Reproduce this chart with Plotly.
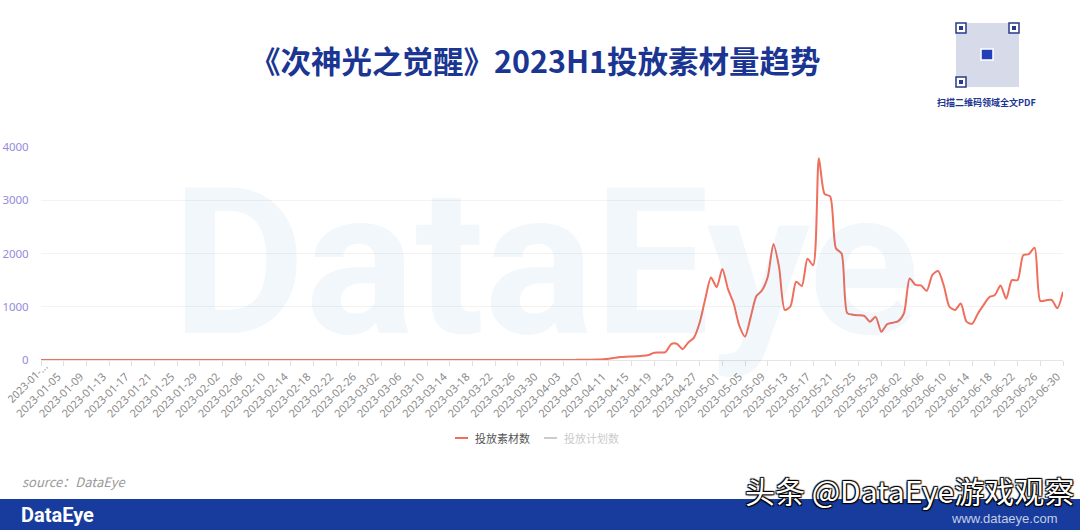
import plotly.graph_objects as go
import pandas as pd

# ---- data ----
dates = pd.date_range("2023-01-01", "2023-06-30", freq="D")
jan = [0] * 31
feb = [0] * 28
mar = [0] * 31
apr = [0, 1, 1, 2, 2, 3, 4, 6, 9, 15, 25, 40, 55, 62, 66, 70, 78, 95, 135, 140,
       150, 300, 305, 205, 330, 420, 700, 1150, 1550, 1370]
may = [1710, 1330, 1060, 640, 440, 810, 1200, 1310, 1560, 2180, 1740, 940, 1010, 1470, 1390,
       1900, 1780, 3790, 3120, 3070, 2100, 2000, 880, 850, 840, 830, 720, 810, 530, 670, 700]
jun = [730, 880, 1530, 1410, 1400, 1300, 1600, 1670, 1400, 1000, 940, 1060, 720, 680, 870,
       1030, 1180, 1220, 1400, 1150, 1500, 1500, 1970, 1990, 2110, 1110, 1120, 1130, 970, 1280]
materials = jan + feb + mar + apr + may + jun

tick_dates = dates[::4]
tick_labels = [d.strftime("%Y-%m-%d") for d in tick_dates]
first_label = "2023-01-..."
tick_labels[0] = ""

series_names = ["投放素材数", "投放计划数"]
title_text = "《次神光之觉醒》2023H1投放素材量趋势"

# ---- layout helpers (page pixels -> paper) ----
L, R, T, B = 41, 1063, 147, 360
W, H = 1080, 530
def px(x):
    return (x - L) / (R - L)
def py(y):
    return (B - y) / (B - T)

LINE_COLOR = "#ef6f5c"
BLUE = "#1b3592"
TICK_GREY = "#8a8a8a"

fig = go.Figure()
fig.add_trace(go.Scatter(
    x=dates, y=materials, mode="lines", name=series_names[0],
    line=dict(color=LINE_COLOR, width=2, shape="spline", smoothing=0.7),
    showlegend=False, hoverinfo="x+y",
))

annotations = []
shapes = []

# watermark
annotations.append(dict(xref="paper", yref="paper", x=px(545), y=py(263), text="<b>DataEye</b>",
                        showarrow=False, font=dict(family="Roboto", size=205, color="rgba(40,120,210,0.06)"),
                        xanchor="center", yanchor="middle"))

# title
annotations.append(dict(xref="paper", yref="paper", x=px(535), y=py(60), text="<b>" + title_text + "</b>",
                        showarrow=False, font=dict(family="Noto Sans CJK SC", size=30.5, color=BLUE),
                        xanchor="center", yanchor="middle"))

# QR-like block
qx0, qy0, qx1, qy1 = 956, 23, 1019, 87
shapes.append(dict(type="rect", xref="paper", yref="paper", x0=px(qx0), x1=px(qx1), y0=py(qy1), y1=py(qy0),
                   fillcolor="#d6dae9", line=dict(width=0), layer="above"))
fs = 10
for (fx, fy) in [(qx0, qy0), (qx1 - fs, qy0), (qx0, qy1 - fs)]:
    shapes.append(dict(type="rect", xref="paper", yref="paper", x0=px(fx), x1=px(fx + fs), y0=py(fy + fs), y1=py(fy),
                       fillcolor="#ffffff", line=dict(color="#2a3a8c", width=1.5), layer="above"))
    shapes.append(dict(type="rect", xref="paper", yref="paper", x0=px(fx + 3), x1=px(fx + 7), y0=py(fy + 7), y1=py(fy + 3),
                       fillcolor="#2a3a8c", line=dict(width=0), layer="above"))
shapes.append(dict(type="rect", xref="paper", yref="paper", x0=px(981), x1=px(993), y0=py(60), y1=py(49),
                   fillcolor="#2340b8", line=dict(color="#ffffff", width=1.5), layer="above"))
annotations.append(dict(xref="paper", yref="paper", x=px(986), y=py(103), text="<b>扫描二维码领域全文PDF</b>",
                        showarrow=False, font=dict(family="Noto Sans CJK SC", size=9, color=BLUE),
                        xanchor="center", yanchor="middle"))

# first (truncated) x tick label, kept inside the page like the reference
annotations.append(dict(xref="paper", yref="paper", x=px(27), y=py(383), text=first_label,
                        showarrow=False, textangle=-45,
                        font=dict(family="Noto Sans", size=10.5, color=TICK_GREY),
                        xanchor="center", yanchor="middle"))

# legend (manual)
shapes.append(dict(type="line", xref="paper", yref="paper", x0=px(455), x1=px(468), y0=py(438), y1=py(438),
                   line=dict(color=LINE_COLOR, width=2)))
annotations.append(dict(xref="paper", yref="paper", x=px(473), y=py(438), text=series_names[0],
                        showarrow=False, font=dict(family="Noto Sans CJK SC", size=11, color="#555555"),
                        xanchor="left", yanchor="middle"))
shapes.append(dict(type="line", xref="paper", yref="paper", x0=px(544), x1=px(557), y0=py(438), y1=py(438),
                   line=dict(color="#cccccc", width=2)))
annotations.append(dict(xref="paper", yref="paper", x=px(562), y=py(438), text=series_names[1],
                        showarrow=False, font=dict(family="Noto Sans CJK SC", size=11, color="#cccccc"),
                        xanchor="left", yanchor="middle"))

# source
annotations.append(dict(xref="paper", yref="paper", x=px(20), y=py(481), text="<i>source：DataEye</i>",
                        showarrow=False, font=dict(family="Noto Sans CJK SC", size=13, color="#9a9a9a"),
                        xanchor="left", yanchor="middle"))

# footer band
shapes.append(dict(type="rect", xref="paper", yref="paper", x0=px(0), x1=px(W), y0=py(H), y1=py(499),
                   fillcolor="#173c9d", line=dict(width=0), layer="above"))
annotations.append(dict(xref="paper", yref="paper", x=px(19), y=py(515), text="<b>DataEye</b>",
                        showarrow=False, font=dict(family="Roboto", size=20, color="#ffffff"),
                        xanchor="left", yanchor="middle"))
annotations.append(dict(xref="paper", yref="paper", x=px(1076), y=py(490), text="头条 @DataEye游戏观察",
                        showarrow=False, font=dict(family="Noto Sans CJK SC", size=30, color="#ffffff",
                                                   shadow="1px 1px 1px #000, -1px -1px 1px #000, 1px -1px 1px #000, -1px 1px 1px #000"),
                        xanchor="right", yanchor="middle"))
annotations.append(dict(xref="paper", yref="paper", x=px(1060), y=py(518), text="www.dataeye.com",
                        showarrow=False, font=dict(family="Liberation Sans", size=13, color="rgba(255,255,255,0.75)"),
                        xanchor="right", yanchor="middle"))

fig.update_layout(
    width=W, height=H,
    margin=dict(l=L, r=W - R, t=T, b=H - B, pad=0, autoexpand=False),
    paper_bgcolor="#ffffff", plot_bgcolor="#ffffff",
    showlegend=False,
    annotations=annotations, shapes=shapes,
    xaxis=dict(
        range=[dates[0], dates[-1]], tickmode="array", tickvals=tick_dates, ticktext=tick_labels,
        tickangle=-45, tickfont=dict(family="Noto Sans", size=11, color=TICK_GREY),
        ticks="outside", ticklen=5, tickcolor="#e0e0e0", showgrid=False, automargin=False,
        showline=True, linecolor="#e6e6e6", zeroline=False, fixedrange=True, ticklabelshift=-6,
        ticklabeloverflow="allow",
    ),
    yaxis=dict(
        range=[0, 4000], tickvals=[0, 1000, 2000, 3000, 4000], automargin=False,
        tickfont=dict(family="Noto Sans", size=11.5, color="#958bdb"),
        showgrid=True, gridcolor="#f3f3f3", gridwidth=1, zeroline=False, showline=False,
        ticks="outside", ticklen=9, tickcolor="rgba(0,0,0,0)", fixedrange=True,
    ),
)

fig.write_html("out.html", config={"displayModeBar": False},
               post_script="document.body.style.margin='0px';document.body.style.overflow='hidden';")
